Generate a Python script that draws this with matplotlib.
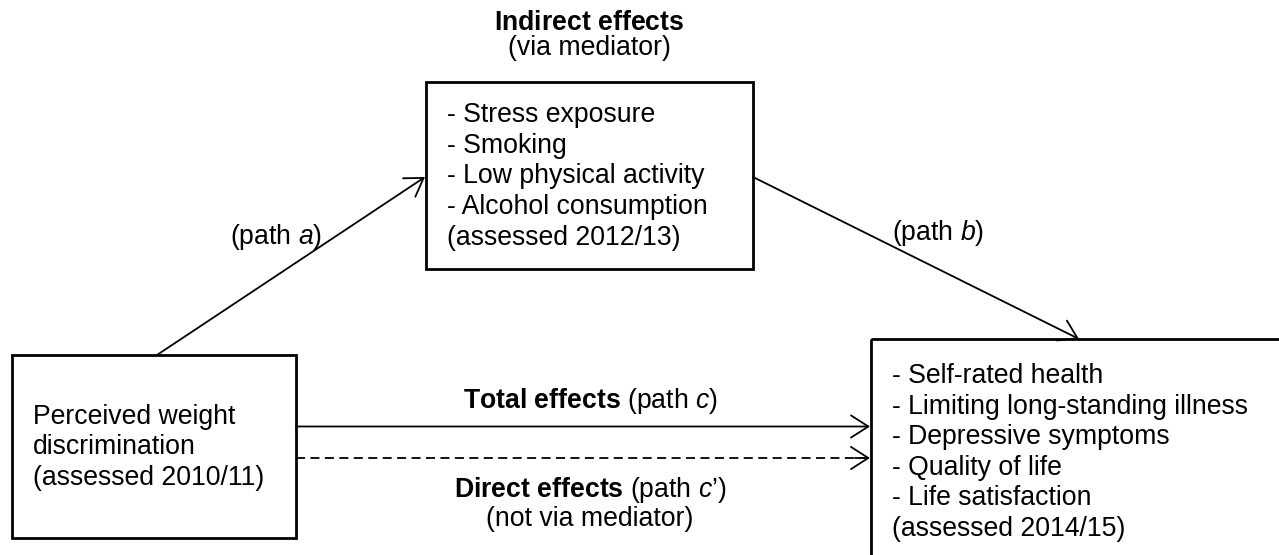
import matplotlib
matplotlib.use("Agg")
import matplotlib.pyplot as plt
from matplotlib.patches import Rectangle, FancyArrowPatch

plt.rcParams['font.family'] = ['Liberation Sans', 'DejaVu Sans']
plt.rcParams['mathtext.fontset'] = 'custom'
plt.rcParams['mathtext.rm'] = 'Liberation Sans'
plt.rcParams['mathtext.it'] = 'Liberation Sans:italic'
plt.rcParams['mathtext.bf'] = 'Liberation Sans:bold'

# Content
exposure_lines = ["Perceived weight", "discrimination", "(assessed 2010/11)"]
mediator_lines = ["- Stress exposure", "- Smoking", "- Low physical activity",
                  "- Alcohol consumption", "(assessed 2012/13)"]
outcome_lines = ["- Self-rated health", "- Limiting long-standing illness",
                 "- Depressive symptoms", "- Quality of life", "- Life satisfaction",
                 "(assessed 2014/15)"]
indirect_title = r"$\bf{Indirect\ effects}$"
indirect_sub = "(via mediator)"
total_label = r"$\bf{Total\ effects}$ (path $\it{c}$)"
direct_label = r"$\bf{Direct\ effects}$ (path $\it{c’}$)"
direct_sub = "(not via mediator)"
path_a_label = r"(path $\it{a}$)"
path_b_label = r"(path $\it{b}$)"

W, H = 1279, 555
fig = plt.figure(figsize=(W/100, H/100), dpi=100)
ax = fig.add_axes([0, 0, 1, 1])
ax.set_xlim(0, W)
ax.set_ylim(H, 0)
ax.axis('off')

fs = 19.2
box_lw = 2.0

# Boxes
ax.add_patch(Rectangle((12, 355), 284, 183, fill=False, lw=box_lw, ec='black'))
ax.add_patch(Rectangle((426, 82), 327, 187, fill=False, lw=box_lw, ec='black'))
ax.add_patch(Rectangle((871, 339), 500, 300, fill=False, lw=box_lw, ec='black', clip_on=True))

def lines(x, y0, dy, items):
    for i, t in enumerate(items):
        ax.text(x, y0 + i*dy, t, fontsize=fs, ha='left', va='center')

lines(33, 417, 30.5, exposure_lines)
lines(447, 115, 30.7, mediator_lines)
lines(892, 376, 30.6, outcome_lines)

ax.text(589, 23, indirect_title, fontsize=fs, ha='center', va='center')
ax.text(589, 48, indirect_sub, fontsize=fs, ha='center', va='center')
ax.text(590, 401, total_label, fontsize=fs, ha='center', va='center')
ax.text(590, 490, direct_label, fontsize=fs, ha='center', va='center')
ax.text(590, 519, direct_sub, fontsize=fs, ha='center', va='center')
ax.text(276, 237, path_a_label, fontsize=fs, ha='center', va='center')
ax.text(892, 233, path_b_label, fontsize=fs, ha='left', va='center')

style = '->,head_length=12.5,head_width=8'

def arrow(p0, p1):
    a = FancyArrowPatch(p0, p1, arrowstyle=style, lw=1.3, color='black',
                        shrinkA=0, shrinkB=0, mutation_scale=1)
    ax.add_patch(a)

arrow((157, 355), (425, 177))
arrow((753, 177), (1079, 339))
arrow((296, 426.5), (870, 426.5))
# dashed direct-effect line with solid head
ax.plot([296, 868], [458, 458], color='black', lw=1.3, linestyle=(0, (5, 3)))
arrow((855, 458), (870, 458))

fig.savefig("out.png", dpi=100)
